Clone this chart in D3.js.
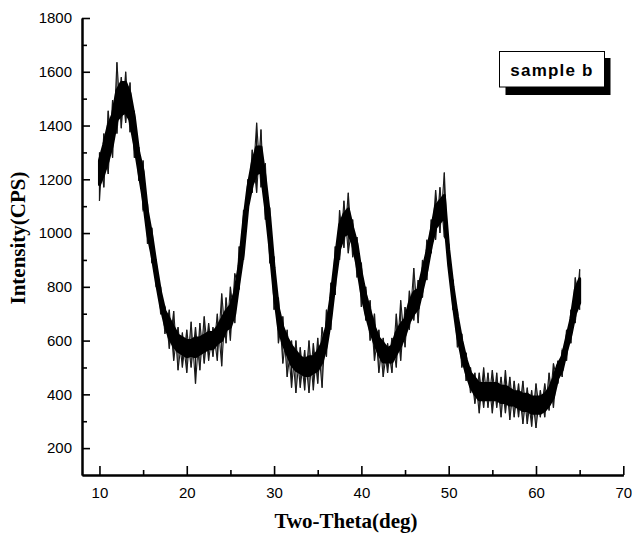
<!DOCTYPE html>
<html>
<head>
<meta charset="utf-8">
<title>sample b</title>
<script src="https://d3js.org/d3.v7.min.js"></script>
<style>
  body { margin: 0; background: #fff; }
  .tick text { font-family: "Liberation Sans", Arial, sans-serif; font-size: 15px; fill: #000; }
  .title { font-family: "Liberation Serif", "Times New Roman", serif; font-weight: bold; font-size: 21px; }
</style>
</head>
<body>
<div id="chart"></div>
<script>
// sampling positions (2θ, deg)
const twoTheta = [
  10, 10.5, 11, 11.5, 12, 12.5, 13, 13.5, 14, 14.5,
  15, 15.5, 16, 16.5, 17, 17.5, 18, 18.5, 19, 19.5,
  20, 20.5, 21, 21.5, 22, 22.5, 23, 23.5, 24, 24.5,
  25, 25.5, 26, 26.5, 27, 27.5, 28, 28.5, 29, 29.5,
  30, 30.5, 31, 31.5, 32, 32.5, 33, 33.5, 34, 34.5,
  35, 35.5, 36, 36.5, 37, 37.5, 38, 38.5, 39, 39.5,
  40, 40.5, 41, 41.5, 42, 42.5, 43, 43.5, 44, 44.5,
  45, 45.5, 46, 46.5, 47, 47.5, 48, 48.5, 49, 49.5,
  50, 50.5, 51, 51.5, 52, 52.5, 53, 53.5, 54, 54.5,
  55, 55.5, 56, 56.5, 57, 57.5, 58, 58.5, 59, 59.5,
  60, 60.5, 61, 61.5, 62, 62.5, 63, 63.5, 64, 64.5, 65
];
// lowest / highest spikes of the noisy trace (CPS)
const spikeLo = [
  1120, 1170, 1220, 1280, 1370, 1390, 1410, 1375, 1280, 1195,
  1085, 960, 890, 800, 700, 625, 570, 525, 490, 500,
  480, 500, 440, 490, 515, 525, 540, 525, 505, 590,
  600, 665, 790, 900, 1085, 1150, 1150, 1170, 1050, 890,
  715, 590, 515, 465, 425, 405, 425, 415, 405, 415,
  440, 425, 540, 640, 770, 900, 945, 925, 910, 835,
  725, 675, 600, 525, 480, 465, 480, 480, 500, 525,
  575, 640, 675, 665, 760, 825, 925, 975, 1000, 985,
  860, 715, 575, 500, 450, 405, 365, 330, 350, 350,
  330, 350, 315, 330, 305, 315, 315, 290, 290, 280,
  275, 315, 315, 340, 350, 440, 465, 525, 590, 665, 715
];
const spikeHi = [
  1300, 1370, 1455, 1495, 1635, 1580, 1600, 1560, 1455, 1320,
  1270, 1110, 1020, 900, 800, 725, 715, 710, 650, 630,
  640, 670, 650, 665, 690, 665, 650, 700, 775, 760,
  800, 850, 950, 1085, 1200, 1310, 1410, 1385, 1260, 1095,
  910, 760, 690, 640, 600, 600, 575, 565, 600, 590,
  610, 650, 715, 815, 950, 1085, 1120, 1150, 1050, 985,
  890, 800, 750, 700, 640, 610, 590, 610, 700, 750,
  725, 785, 870, 825, 900, 975, 1050, 1160, 1170, 1225,
  960, 825, 715, 625, 555, 500, 480, 480, 500, 480,
  490, 480, 465, 490, 465, 450, 440, 450, 425, 415,
  440, 415, 440, 480, 515, 525, 565, 640, 715, 835, 865
];
// dense core of the trace (CPS)
const coreLo = [
  1180, 1220, 1270, 1330, 1420, 1440, 1450, 1420, 1330, 1230,
  1130, 1000, 920, 820, 730, 660, 610, 580, 560, 550,
  540, 545, 540, 550, 560, 570, 570, 590, 600, 640,
  650, 700, 820, 930, 1100, 1180, 1220, 1230, 1100, 950,
  780, 650, 590, 550, 510, 490, 480, 470, 470, 480,
  490, 520, 580, 680, 820, 940, 990, 1000, 960, 880,
  780, 700, 640, 590, 550, 520, 520, 520, 550, 580,
  620, 670, 700, 720, 790, 860, 950, 1020, 1040, 1060,
  880, 740, 620, 540, 480, 430, 400, 380, 380, 380,
  380, 380, 370, 370, 360, 360, 350, 340, 340, 330,
  330, 330, 340, 360, 390, 460, 490, 560, 620, 700, 740
];
const coreHi = [
  1270, 1330, 1400, 1440, 1530, 1560, 1560, 1520, 1430, 1300,
  1230, 1080, 990, 880, 780, 710, 680, 650, 620, 610,
  600, 600, 610, 610, 620, 630, 630, 650, 680, 710,
  730, 780, 880, 1040, 1170, 1260, 1320, 1320, 1200, 1060,
  870, 720, 650, 610, 580, 560, 540, 530, 540, 540,
  560, 590, 650, 760, 900, 1030, 1070, 1090, 1020, 960,
  850, 770, 710, 650, 610, 590, 570, 580, 630, 660,
  680, 740, 780, 790, 860, 930, 1010, 1100, 1120, 1140,
  940, 800, 690, 600, 530, 480, 460, 440, 440, 440,
  440, 440, 430, 430, 420, 410, 410, 400, 400, 390,
  390, 390, 400, 420, 460, 510, 540, 610, 680, 790, 830
];

const xTicks = [10, 20, 30, 40, 50, 60, 70];
const yTicks = [200, 400, 600, 800, 1000, 1200, 1400, 1600, 1800];
const legendLabel = "sample b";

const width = 632, height = 534;
const plot = {left: 82, right: 623.3, top: 18, bottom: 475};

const svg = d3.select("#chart").append("svg")
  .attr("width", width)
  .attr("height", height);

const x = d3.scaleLinear().domain([8, 70]).range([plot.left, plot.right]);
const y = d3.scaleLinear().domain([100, 1800]).range([plot.bottom, plot.top]);

const pts = twoTheta.map((t, i) => ({t, lo: spikeLo[i], hi: spikeHi[i], cLo: coreLo[i], cHi: coreHi[i], i}));

// spikes
svg.append("g").selectAll("line")
  .data(pts)
  .enter().append("line")
  .attr("x1", d => x(d.t)).attr("x2", d => x(d.t))
  .attr("y1", d => y(d.lo)).attr("y2", d => y(d.hi))
  .attr("stroke", "#111").attr("stroke-width", 1.2);

// zigzag through the spikes
const zig = d3.line().x(d => x(d.t)).y(d => y(d.i % 2 ? d.lo : d.hi));
const zag = d3.line().x(d => x(d.t)).y(d => y(d.i % 2 ? d.hi : d.lo));
svg.append("path").datum(pts)
  .attr("fill", "none").attr("stroke", "#1a1a1a").attr("stroke-width", 1.1)
  .attr("d", zig);
svg.append("path").datum(pts)
  .attr("fill", "none").attr("stroke", "#1a1a1a").attr("stroke-width", 1.1)
  .attr("d", zag);

// dense core
svg.append("path")
  .datum(pts)
  .attr("fill", "#000")
  .attr("stroke", "#000")
  .attr("stroke-width", 3)
  .attr("stroke-linejoin", "round")
  .attr("d", d3.area().x(d => x(d.t)).y0(d => y(d.cLo)).y1(d => y(d.cHi)));

// axes
const fmt = d3.format("d");
const xMinor = d3.axisBottom(x).tickValues(d3.range(15, 70, 10)).tickSize(-5).tickSizeOuter(0).tickFormat("");
const xAxis = d3.axisBottom(x).tickValues(xTicks).tickSize(-9).tickSizeOuter(0).tickPadding(12).tickFormat(fmt);
const yMinor = d3.axisLeft(y).tickValues(d3.range(300, 1800, 200)).tickSize(-5).tickSizeOuter(0).tickFormat("");
const yAxis = d3.axisLeft(y).tickValues(yTicks).tickSize(-8).tickSizeOuter(0).tickPadding(10).tickFormat(fmt);

svg.append("g").attr("transform", `translate(0,${plot.bottom})`).call(xMinor);
svg.append("g").attr("transform", `translate(0,${plot.bottom})`).call(xAxis);
svg.append("g").attr("transform", `translate(${plot.left},0)`).call(yMinor);
svg.append("g").attr("transform", `translate(${plot.left},0)`).call(yAxis);

svg.selectAll(".domain").attr("stroke", "#000").attr("stroke-width", 2);
svg.selectAll(".tick line").attr("stroke", "#000").attr("stroke-width", 1.6);

// axis titles
svg.append("text")
  .attr("class", "title")
  .attr("x", 346)
  .attr("y", 528)
  .attr("text-anchor", "middle")
  .text("Two-Theta(deg)");

svg.append("text")
  .attr("class", "title")
  .attr("transform", "translate(25,238) rotate(-90)")
  .attr("text-anchor", "middle")
  .text("Intensity(CPS)");

// legend box with drop shadow
const lg = svg.append("g");
lg.append("rect")
  .attr("x", 505.5).attr("y", 58)
  .attr("width", 105).attr("height", 37)
  .attr("fill", "#000");
lg.append("rect")
  .attr("x", 499.5).attr("y", 51.5)
  .attr("width", 105).attr("height", 35.5)
  .attr("fill", "#fff").attr("stroke", "#000").attr("stroke-width", 1);
lg.append("text")
  .attr("x", 552)
  .attr("y", 76)
  .attr("text-anchor", "middle")
  .attr("font-family", "'Liberation Sans', Arial, sans-serif")
  .attr("font-weight", "bold")
  .attr("font-size", 17)
  .attr("letter-spacing", 1.2)
  .text(legendLabel);
</script>
</body>
</html>
